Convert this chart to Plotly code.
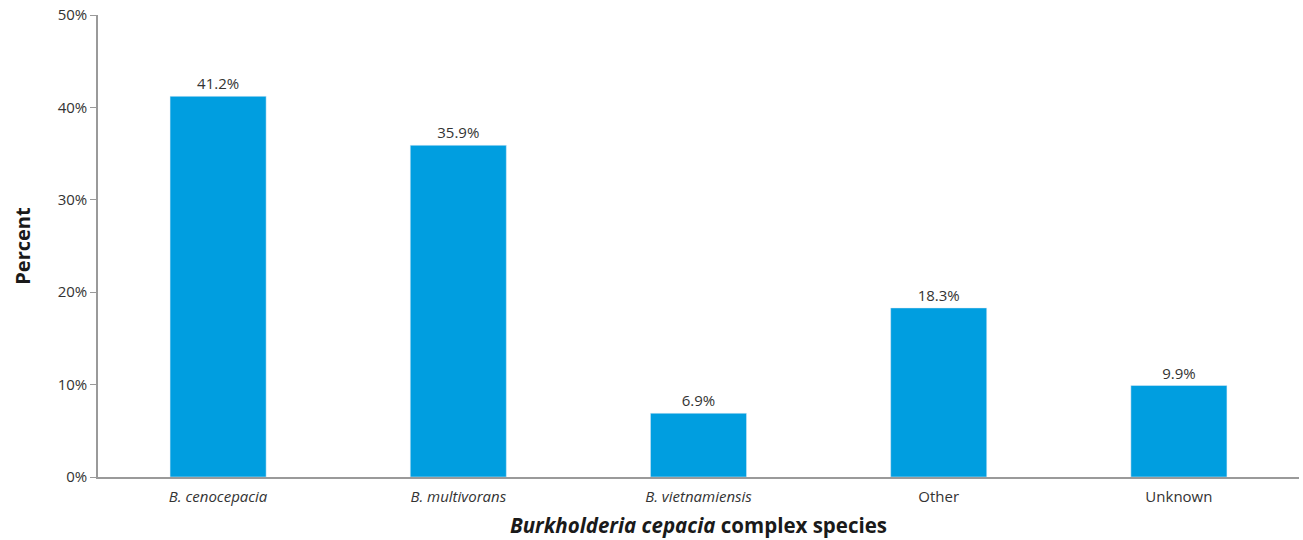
import plotly.graph_objects as go

# data
species = ["<i>B. cenocepacia</i>", "<i>B. multivorans</i>", "<i>B. vietnamiensis</i>", "Other", "Unknown"]
percent = [41.2, 35.9, 6.9, 18.3, 9.9]
y_ticks = [0, 10, 20, 30, 40, 50]
y_tick_labels = ["0%", "10%", "20%", "30%", "40%", "50%"]

BAR_COLOR = "#009ee0"
TEXT_COLOR = "#333333"
AXIS_COLOR = "#9a9a9a"
FONT = "Open Sans, Noto Sans, sans-serif"

fig = go.Figure()

fig.add_trace(go.Bar(
    x=species,
    y=percent,
    marker_color=BAR_COLOR,
    text=[f"{v:.1f}%" for v in percent],
    textposition="outside",
    textfont=dict(size=15, color=TEXT_COLOR, family=FONT),
    cliponaxis=False,
))

fig.update_layout(
    width=1303,
    height=540,
    margin=dict(l=98, r=4, t=15, b=63),
    plot_bgcolor="white",
    paper_bgcolor="white",
    font=dict(family=FONT, color=TEXT_COLOR, size=15),
    bargap=0.6,
    showlegend=False,
)

fig.update_xaxes(
    showline=True,
    linecolor=AXIS_COLOR,
    linewidth=1.5,
    ticks="",
    ticklabelstandoff=5,
    showgrid=False,
    tickfont=dict(size=15, color=TEXT_COLOR),
    title=dict(text="<b><i>Burkholderia cepacia</i> complex species</b>",
               font=dict(size=20.5, color="#1a1a1a"), standoff=14),
)

fig.update_yaxes(
    range=[0, 50],
    tickvals=y_ticks,
    ticktext=y_tick_labels,
    showline=True,
    linecolor=AXIS_COLOR,
    linewidth=1.5,
    ticks="outside",
    ticklen=6,
    tickcolor=AXIS_COLOR,
    showgrid=False,
    zeroline=False,
    tickfont=dict(size=15, color=TEXT_COLOR),
    title=dict(text="<b>Percent</b>", font=dict(size=20, color="#1a1a1a"), standoff=22),
)

# drop the default page margin so the figure sits at the top-left corner
fig.write_html("out.html", config={"displayModeBar": False},
               post_script="document.body.style.margin='0';")
